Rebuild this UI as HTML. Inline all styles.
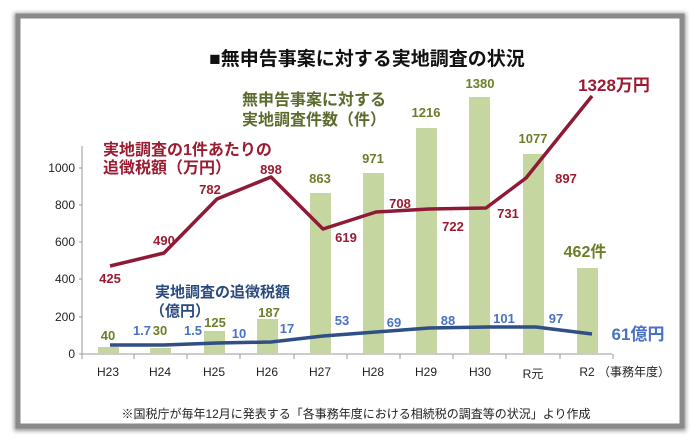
<!DOCTYPE html>
<html><head><meta charset="utf-8"><style>
html,body{margin:0;padding:0;background:#fff;width:700px;height:437px;overflow:hidden}
svg{display:block}
text{font-family:"Liberation Sans","Noto Sans CJK JP",sans-serif}
</style></head><body>
<svg width="700" height="437" viewBox="0 0 700 437">
<defs><filter id="sh" x="-5%" y="-5%" width="110%" height="110%"><feGaussianBlur stdDeviation="2"/></filter></defs>
<rect x="14" y="13" width="672" height="418" fill="#999" filter="url(#sh)"/>
<rect x="18" y="16" width="664" height="410" fill="#fff" stroke="#8a8a8a" stroke-width="5"/>
<text x="367" y="65" font-size="19" font-weight="bold" text-anchor="middle" fill="#111">■無申告事案に対する実地調査の状況</text>
<!-- axes -->
<g stroke="#999" stroke-width="1">
<line x1="82" y1="146" x2="82" y2="354"/>
<line x1="79" y1="354" x2="612" y2="354"/>
<line x1="79" y1="168" x2="82" y2="168"/><line x1="79" y1="205" x2="82" y2="205"/><line x1="79" y1="242" x2="82" y2="242"/><line x1="79" y1="279" x2="82" y2="279"/><line x1="79" y1="317" x2="82" y2="317"/>
<line x1="82" y1="354" x2="82" y2="359"/><line x1="134" y1="354" x2="134" y2="359"/><line x1="187" y1="354" x2="187" y2="359"/><line x1="240" y1="354" x2="240" y2="359"/><line x1="294" y1="354" x2="294" y2="359"/><line x1="347" y1="354" x2="347" y2="359"/><line x1="400" y1="354" x2="400" y2="359"/><line x1="453" y1="354" x2="453" y2="359"/><line x1="506" y1="354" x2="506" y2="359"/><line x1="560" y1="354" x2="560" y2="359"/><line x1="613" y1="354" x2="613" y2="359"/>
</g>
<g font-size="12" fill="#222" text-anchor="end">
<text x="75" y="172">1000</text><text x="75" y="209">800</text><text x="75" y="246">600</text><text x="75" y="283">400</text><text x="75" y="321">200</text><text x="75" y="358">0</text>
</g>
<g font-size="12" fill="#222" text-anchor="middle">
<text x="108" y="376">H23</text><text x="160" y="376">H24</text><text x="214" y="376">H25</text><text x="267" y="376">H26</text><text x="320" y="376">H27</text><text x="373" y="376">H28</text><text x="426" y="376">H29</text><text x="480" y="376">H30</text><text x="533" y="378">R元</text><text x="587" y="376">R2</text>
<text x="634" y="376">（事務年度）</text>
</g>
<!-- bars -->
<g fill="#c6d6a0">
<rect x="98" y="347" width="21" height="7"/>
<rect x="150" y="348" width="21" height="6"/>
<rect x="204" y="331" width="21" height="23"/>
<rect x="257" y="319" width="21" height="35"/>
<rect x="310" y="193" width="21" height="161"/>
<rect x="363" y="173" width="21" height="181"/>
<rect x="416" y="128" width="21" height="226"/>
<rect x="469" y="97" width="21" height="257"/>
<rect x="523" y="154" width="21" height="200"/>
<rect x="577" y="268" width="21" height="86"/>
</g>
<g font-size="13" font-weight="bold" fill="#6b7f2a" text-anchor="middle">
<text x="108" y="340">40</text><text x="160" y="335">30</text><text x="215" y="327">125</text><text x="269" y="317">187</text><text x="320" y="183">863</text><text x="373" y="163">971</text><text x="426" y="117">1216</text><text x="480" y="88">1380</text><text x="533" y="143">1077</text>
<text x="585" y="257" font-size="16">462件</text>
</g>
<g font-size="16" font-weight="bold" fill="#5b6b2e">
<text x="242" y="105">無申告事案に対する</text><text x="242" y="125">実地調査件数（件）</text>
</g>
<!-- red line -->
<polyline fill="none" stroke="#8e1b36" stroke-width="3.5" stroke-linejoin="round" points="110,266 164,253 217,199 271,177 323,229 376,212 429,209 486,208 526,178 592,96"/>
<g font-size="13" font-weight="bold" fill="#9b1b30" text-anchor="middle">
<text x="110" y="283">425</text><text x="164" y="245">490</text><text x="210" y="194">782</text><text x="271" y="174">898</text><text x="346" y="242">619</text><text x="400" y="208">708</text><text x="453" y="231">722</text><text x="508" y="218">731</text><text x="566" y="183">897</text>
<text x="614" y="91" font-size="17">1328万円</text>
</g>
<g font-size="16" font-weight="bold" fill="#9b1b30">
<text x="103" y="155">実地調査の1件あたりの</text><text x="103" y="173">追徴税額（万円）</text>
</g>
<!-- blue line -->
<polyline fill="none" stroke="#2f4f86" stroke-width="3.5" stroke-linejoin="round" points="110,345 164,345 217,343 271,342 323,336 376,332 429,328 488,327 536,327 592,334"/>
<g font-size="13" font-weight="bold" fill="#4a72c4" text-anchor="middle">
<text x="142" y="335">1.7</text><text x="193" y="335">1.5</text><text x="239" y="338">10</text><text x="287" y="333">17</text><text x="342" y="325">53</text><text x="394" y="327">69</text><text x="448" y="325">88</text><text x="504" y="323">101</text><text x="556" y="323">97</text>
<text x="638" y="340" font-size="17">61億円</text>
</g>
<g font-size="15" font-weight="bold" fill="#2a4a7f">
<text x="155" y="297">実地調査の追徴税額</text><text x="150" y="316">（億円）</text>
</g>
<text x="356" y="418" font-size="12" text-anchor="middle" fill="#222">※国税庁が毎年12月に発表する「各事務年度における相続税の調査等の状況」より作成</text>
</svg>
</body></html>
